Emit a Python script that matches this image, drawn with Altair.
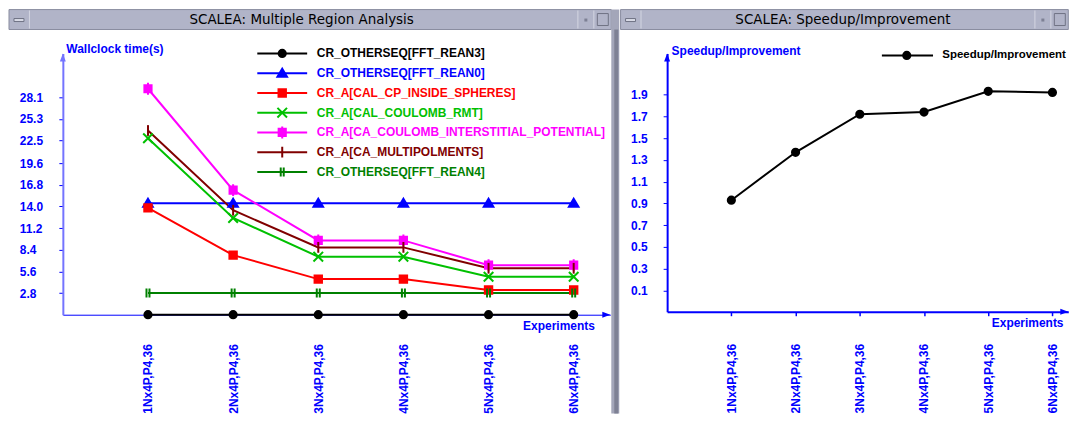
import json
import altair as alt
import pandas as pd

# ---------------- data ----------------
CATEGORIES = ["1Nx4P,P4,36", "2Nx4P,P4,36", "3Nx4P,P4,36",
              "4Nx4P,P4,36", "5Nx4P,P4,36", "6Nx4P,P4,36"]
SERIES = ["CR_OTHERSEQ[FFT_REAN3]", "CR_OTHERSEQ[FFT_REAN0]",
          "CR_A[CAL_CP_INSIDE_SPHERES]", "CR_A[CAL_COULOMB_RMT]",
          "CR_A[CA_COULOMB_INTERSTITIAL_POTENTIAL]", "CR_A[CA_MULTIPOLMENTS]",
          "CR_OTHERSEQ[FFT_REAN4]"]
COLORS = ["#000000", "#0000ff", "#ff0000", "#00c000", "#ff00ff", "#800000", "#008000"]
SHAPES = [
    "M-0.6,0A0.6,0.6 0 1,0 0.6,0A0.6,0.6 0 1,0 -0.6,0Z",          # filled circle
    "M0,-0.75L0.8,0.6L-0.8,0.6Z",                                  # triangle
    "M-0.62,-0.62H0.62V0.62H-0.62Z",                               # square
    "M-0.8,-0.8L0.8,0.8M-0.8,0.8L0.8,-0.8",                        # x
    "M-0.6,-0.6H0.6V0.6H-0.6Z M0,-1V1",                            # square with bar
    "M0,-0.9V0.9",                                                 # vertical bar
    "M-0.25,-0.75V0.75M0.25,-0.75V0.75",                           # double bar
]
FFT_REAN3 = [0.0, 0.0, 0.0, 0.0, 0.0, 0.0]
FFT_REAN0 = [14.4, 14.4, 14.4, 14.4, 14.4, 14.4]
CP_INSIDE_SPHERES = [13.8, 7.7, 4.6, 4.6, 3.2, 3.2]
COULOMB_RMT = [22.8, 12.5, 7.5, 7.5, 4.9, 4.9]
INTERSTITIAL = [29.2, 16.1, 9.6, 9.6, 6.4, 6.4]
MULTIPOLMENTS = [23.8, 13.5, 8.7, 8.7, 6.0, 6.0]
FFT_REAN4 = [2.8, 2.8, 2.8, 2.8, 2.8, 2.8]
SPEEDUP_NAME = "Speedup/Improvement"
SPEEDUP = [0.93, 1.37, 1.72, 1.74, 1.93, 1.92]
WALL_TICKS = [2.8, 5.6, 8.4, 11.2, 14.0, 16.8, 19.6, 22.5, 25.3, 28.1]
SPEED_TICKS = [0.1, 0.3, 0.5, 0.7, 0.9, 1.1, 1.3, 1.5, 1.7, 1.9]
EXP_IDX = [1, 2, 3, 4, 5, 6]

SERIES_VALUES = [FFT_REAN3, FFT_REAN0, CP_INSIDE_SPHERES, COULOMB_RMT,
                 INTERSTITIAL, MULTIPOLMENTS, FFT_REAN4]

wall = pd.DataFrame([
    {"series": s, "idx": k, "exp": EXP_IDX[i], "value": v}
    for k, (s, vals) in enumerate(zip(SERIES, SERIES_VALUES)) for i, v in enumerate(vals)
])
speed = pd.DataFrame([
    {"series": SPEEDUP_NAME, "idx": 0, "exp": EXP_IDX[i], "value": v}
    for i, v in enumerate(SPEEDUP)
])

# ---------------- style ----------------
BLUE = "#0000ff"
BOLD = "Liberation Sans"
BAR = "#b1b4c8"
BAR_DARK = "#8a8da0"
ONE = pd.DataFrame({"k": [0]})
LABEL_EXPR = f"{json.dumps(CATEGORIES)}[datum.value - 1]"

W1, H1 = 549, 262
XMAX1, YMAX1 = 6.43, 33.76
W2, H2 = 402.3, 259
XMAX2, YMIN2, YMAX2 = 6.247, -0.095, 2.2785


def box(x1, x2, y1, y2, fill, **kw):
    return alt.Chart(ONE).mark_rect(fill=fill, **kw).encode(
        x=alt.value(x1), x2=alt.value(x2), y=alt.value(y1), y2=alt.value(y2))


def label(text, x, y, **kw):
    return alt.Chart(pd.DataFrame({"t": [text]})).mark_text(**kw).encode(
        x=alt.value(x), y=alt.value(y), text="t:N")


def chrome(left, right, top, title, tx, ty, border=None, bottom=None):
    layers = [
        box(left, right, top, top + 20, BAR, stroke=BAR_DARK, strokeWidth=1),
        box(left + 20, left + 21, top + 1, top + 19, "#d4d6e2"),
        box(left + 5, left + 15, top + 9, top + 12, "#d8dae6", stroke="#6f7285", strokeWidth=1),
        box(right - 34, right - 33, top + 1, top + 19, "#d4d6e2"),
        box(right - 27, right - 24, top + 9, top + 12, "#7d8094"),
        box(right - 18, right - 17, top + 1, top + 19, "#d4d6e2"),
        box(right - 14, right - 3, top + 4, top + 16, BAR, stroke="#6f7285", strokeWidth=1),
        label(title, tx, ty, font="DejaVu Sans", fontSize=13.5, color="#000000",
              align="center", baseline="middle"),
    ]
    if border is not None:
        layers.append(box(border, border + 8, top, bottom, "#a3a6b9"))
        layers.append(box(border + 3, border + 7, top + 20, bottom, "#7e8194"))
    return layers


def arrows(xmax, ymin, ymax, color):
    up = pd.DataFrame({"exp": [0.0], "value": [ymax]})
    rt = pd.DataFrame({"exp": [xmax], "value": [ymin]})
    a = alt.Chart(up).mark_point(shape="M0,0L-0.75,2L0.75,2Z", size=64, filled=True,
                                 color=color, opacity=1).encode(x="exp:Q", y="value:Q")
    b = alt.Chart(rt).mark_point(shape="M0,0L-2,-0.75L-2,0.75Z", size=64, filled=True,
                                 color=BLUE, opacity=1).encode(x="exp:Q", y="value:Q")
    return [a, b]


def line_legend(names, colors, lx, ly, size, loff, fs=12):
    lab = f"{json.dumps(names)}[datum.value]"
    col = f"{json.dumps(colors)}[datum.value]"
    return alt.Legend(orient="none", legendX=lx, legendY=ly, title=None,
                      symbolType="stroke", symbolSize=size, symbolStrokeWidth=2,
                      labelExpr=lab,
                      labelFont=BOLD, labelFontWeight="bold", labelFontSize=fs,
                      labelColor=alt.ExprRef(expr=col), labelOffset=loff,
                      labelLimit=500, clipHeight=16, rowPadding=3.8, padding=0)


def marker_legend(lx, ly, fs=12):
    # marker-only legend drawn over the line legend (labels left empty)
    return alt.Legend(orient="none", legendX=lx, legendY=ly, title=None,
                      symbolSize=144, symbolStrokeWidth=2, symbolOpacity=1,
                      labelFont=BOLD, labelFontWeight="bold", labelFontSize=fs,
                      labelExpr="''", labelLimit=500, clipHeight=16,
                      rowPadding=3.8, padding=0)


def x_axis(label_pad, ticks, title_x, domain_w):
    return alt.Axis(values=EXP_IDX, tickCount=20, labelExpr=LABEL_EXPR, labelAngle=-90,
                    labelFont=BOLD, labelFontWeight="bold", labelFontSize=12,
                    labelColor=BLUE, labelPadding=label_pad, ticks=ticks, tickSize=4,
                    tickColor=BLUE, tickWidth=1.5, labelFlush=False, labelOverlap=False,
                    domainColor=BLUE, domainWidth=domain_w, grid=False,
                    title="Experiments", titleX=title_x, titleY=11, titleAngle=0,
                    titleAlign="right", titleBaseline="middle", titleColor=BLUE,
                    titleFont=BOLD, titleFontSize=12, titleFontWeight="bold")


def y_axis(values, label_pad, title, dom_color, dom_w, title_x, title_y):
    return alt.Axis(values=values, tickCount=40, format=".1f", labelAlign="left",
                    labelPadding=label_pad, tickSize=4, tickColor=BLUE,
                    labelFont=BOLD, labelFontWeight="bold", labelFontSize=12,
                    labelColor=BLUE, labelFlush=False, labelOverlap=False,
                    domainColor=dom_color, domainWidth=dom_w, grid=False,
                    title=title, titleAngle=0, titleX=title_x, titleY=title_y,
                    titleAlign="left", titleBaseline="middle", titleColor=BLUE,
                    titleFont=BOLD, titleFontSize=12, titleFontWeight="bold")


# ---------------- left panel ----------------
x1 = alt.X("exp:Q", scale=alt.Scale(domain=[0, XMAX1], nice=False, zero=False),
           axis=x_axis(29, False, 533, 1))
y1 = alt.Y("value:Q", scale=alt.Scale(domain=[0, YMAX1], nice=False, zero=False),
           axis=y_axis(WALL_TICKS, 39.7, "Wallclock time(s)", "#7474ff", 2, 3, -5))

lines1 = alt.Chart(wall).mark_line(strokeWidth=2).encode(
    x=x1, y=y1,
    color=alt.Color("idx:O", scale=alt.Scale(range=COLORS),
                    legend=line_legend(SERIES, COLORS, 194, -8, 2500, 8.7)))
leg_b1 = marker_legend(213, -8)
points1 = alt.Chart(wall).mark_point(size=144, strokeWidth=2, opacity=1).encode(
    x=x1, y=y1,
    fill=alt.Fill("series:N", scale=alt.Scale(domain=SERIES, range=COLORS), legend=leg_b1),
    stroke=alt.Stroke("series:N", scale=alt.Scale(domain=SERIES, range=COLORS), legend=leg_b1),
    shape=alt.Shape("series:N", scale=alt.Scale(domain=SERIES, range=SHAPES), legend=leg_b1))

left = alt.layer(
    *chrome(-54, 550, -44, "SCALEA: Multiple Region Analysis", 239.5, -33.5,
            border=550, bottom=361),
    lines1, points1, *arrows(XMAX1, 0, YMAX1, "#7474ff"),
).properties(width=W1, height=H1)

# ---------------- right panel ----------------
x2 = alt.X("exp:Q", scale=alt.Scale(domain=[0, XMAX2], nice=False, zero=False),
           axis=x_axis(27.7, True, 397, 2))
y2 = alt.Y("value:Q", scale=alt.Scale(domain=[YMIN2, YMAX2], nice=False, zero=False),
           axis=y_axis(SPEED_TICKS, 32.7, SPEEDUP_NAME, BLUE, 2, 4, -3))

lines2 = alt.Chart(speed).mark_line(strokeWidth=2).encode(
    x=x2, y=y2,
    color=alt.Color("idx:O", scale=alt.Scale(range=["#000000"]),
                    legend=line_legend([SPEEDUP_NAME], ["#000000"], 214, -6, 2630, 8, 11.5)))
leg_b2 = marker_legend(233.3, -6, 11.5)
points2 = alt.Chart(speed).mark_point(size=144, strokeWidth=2, opacity=1).encode(
    x=x2, y=y2,
    fill=alt.Fill("series:N", scale=alt.Scale(domain=[SPEEDUP_NAME], range=["#000000"]), legend=leg_b2),
    stroke=alt.Stroke("series:N", scale=alt.Scale(domain=[SPEEDUP_NAME], range=["#000000"]), legend=leg_b2),
    shape=alt.Shape("series:N", scale=alt.Scale(domain=[SPEEDUP_NAME], range=[SHAPES[0]]), legend=leg_b2))

right = alt.layer(
    *chrome(-46.7, 402.3, -44, "SCALEA: Speedup/Improvement", 176.3, -33.5),
    lines2, points2, *arrows(XMAX2, YMIN2, YMAX2, BLUE),
).properties(width=W2, height=H2)

IND = "independent"
chart = alt.hconcat(left, right, spacing=0).resolve_scale(
    color=IND, fill=IND, stroke=IND, shape=IND
).resolve_legend(
    color=IND, fill=IND, stroke=IND, shape=IND
).properties(
    padding=0, background="white"
).configure_view(stroke=None)

chart.save("out.html", embed_options={"renderer": "svg", "actions": False})
